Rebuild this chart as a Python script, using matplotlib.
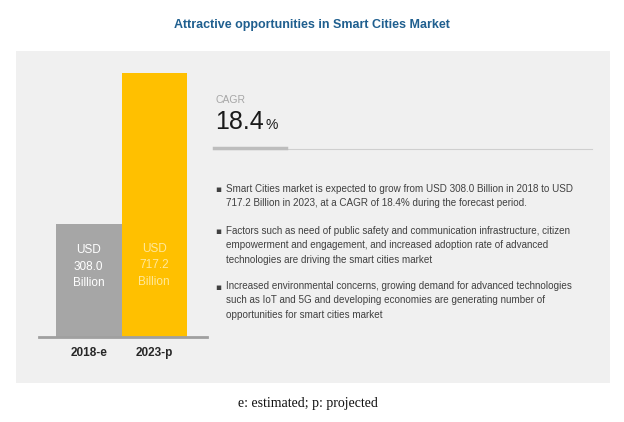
import matplotlib.pyplot as plt
from matplotlib.patches import Rectangle
from matplotlib.lines import Line2D

years = ['2018-e', '2023-p']
values = [308.0, 717.2]
bar_colors = ['#A6A6A6', '#FFC000']
label_colors = ['#FFFFFF', '#FFE89A']
cagr = 18.4
bullets = [
    'Smart Cities market is expected to grow from USD 308.0 Billion in 2018 to USD\n'
    '717.2 Billion in 2023, at a CAGR of 18.4% during the forecast period.',
    'Factors such as need of public safety and communication infrastructure, citizen\n'
    'empowerment and engagement, and increased adoption rate of advanced\n'
    'technologies are driving the smart cities market',
    'Increased environmental concerns, growing demand for advanced technologies\n'
    'such as IoT and 5G and developing economies are generating number of\n'
    'opportunities for smart cities market',
]

W, H = 624, 422
narrow = ['Liberation Sans Narrow', 'Liberation Sans', 'DejaVu Sans']

fig = plt.figure(figsize=(W / 100, H / 100), dpi=100)
fig.patch.set_facecolor('white')


def fx(px):
    return px / W


def fy(py):
    return 1 - py / H


# grey panel
fig.patches.append(Rectangle((fx(16), fy(383)), fx(610) - fx(16), fy(51) - fy(383),
                             transform=fig.transFigure, facecolor='#F0F0F0',
                             edgecolor='none', zorder=-5))

fig.text(0.5, fy(25), 'Attractive opportunities in Smart Cities Market', ha='center', va='center',
         fontsize=9, fontweight='bold', color='#1F5F8F', family=narrow)

# bars
ax = fig.add_axes([fx(39), fy(337), fx(207) - fx(39), fy(73) - fy(337)])
ax.patch.set_alpha(0)
ax.bar(range(len(values)), values, width=1.0, color=bar_colors, zorder=2)
ax.set_xlim(-0.76, 1.805)
ax.set_ylim(0, max(values))
for s in ['top', 'right', 'left']:
    ax.spines[s].set_visible(False)
ax.spines['bottom'].set_color('#A0A0A0')
ax.spines['bottom'].set_linewidth(2)
ax.set_yticks([])
ax.set_xticks(range(len(years)))
ax.set_xticklabels(years, fontsize=8.5, fontweight='bold', color='#262626', family=narrow)
ax.tick_params(axis='x', length=0, pad=7)
for i, v in enumerate(values):
    ax.text(i, v * (0.62 if i == 0 else 0.272), f'USD\n{v:.1f}\nBillion', ha='center', va='center',
            fontsize=8.5, color=label_colors[i], family=narrow, linespacing=1.5)

# CAGR block
fig.text(fx(216), fy(100), 'CAGR', fontsize=7.5, color='#A6A6A6', va='center', family=narrow)
fig.text(fx(215), fy(122), f'{cagr}', fontsize=18, color='#1A1A1A', va='center', family=narrow)
fig.text(fx(265), fy(125), '%', fontsize=10, color='#1A1A1A', va='center', family=narrow)
fig.lines.append(Line2D([fx(214), fx(592)], [fy(149), fy(149)], transform=fig.transFigure,
                        color='#CFCFCF', lw=0.8))
fig.lines.append(Line2D([fx(214), fx(286)], [fy(148), fy(148)], transform=fig.transFigure,
                        color='#BDBDBD', lw=2.5))

# bullet points
tops = [184, 226, 281]
for t, txt in zip(tops, bullets):
    fig.text(fx(215), fy(t + 6), '\u25aa', fontsize=6.5, color='#404040', va='center')
    fig.text(fx(226), fy(t), txt, fontsize=7.1, color='#404040', va='top', family=narrow,
             linespacing=1.55)

fig.text(fx(308), fy(404), 'e: estimated; p: projected', ha='center', va='center',
         fontsize=10, color='#111111', family=['Liberation Serif', 'DejaVu Serif'])

fig.savefig('out.png', dpi=100)
